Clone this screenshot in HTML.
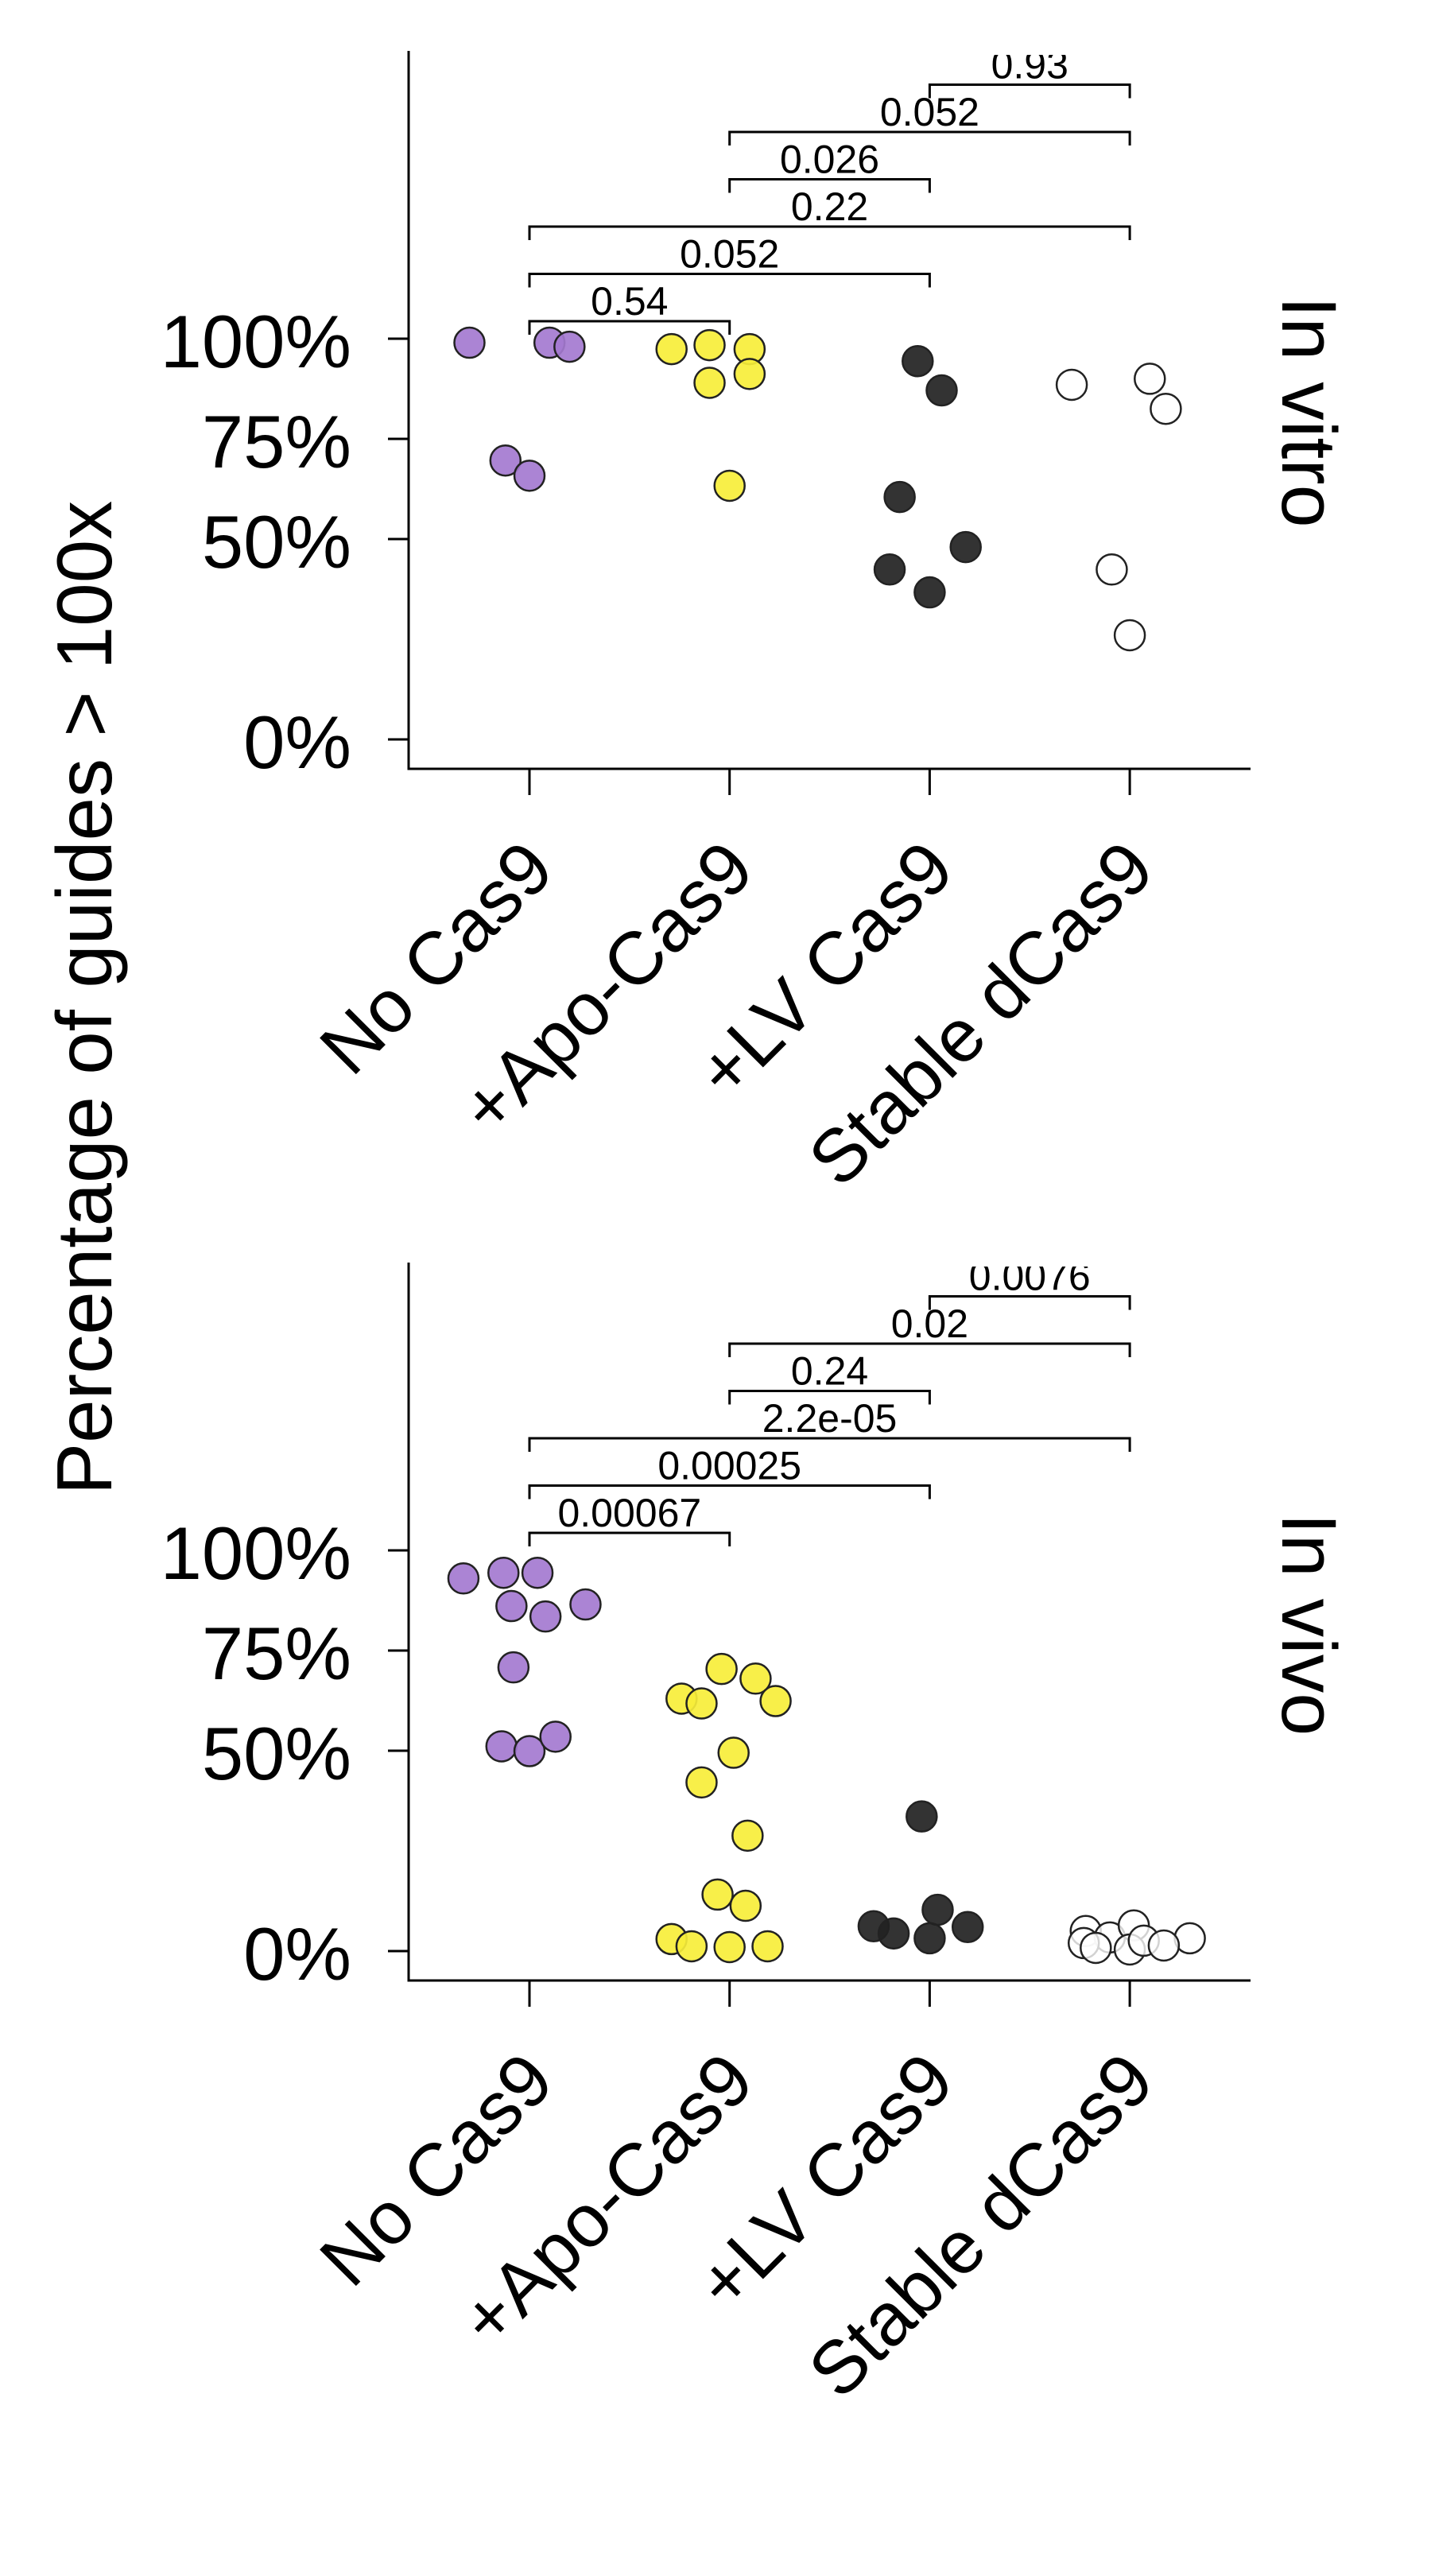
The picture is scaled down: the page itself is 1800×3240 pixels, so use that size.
<!DOCTYPE html>
<html><head><meta charset="utf-8"><style>
html,body{margin:0;padding:0;background:#fff;}
svg{display:block;}
text{font-family:"Liberation Sans",Arial,sans-serif;fill:#000;}
</style></head>
<body>
<svg id="fig" width="1800" height="3240" viewBox="0 0 1800 3240" xmlns="http://www.w3.org/2000/svg">
<defs>
<clipPath id="clipTop"><rect x="514" y="69" width="1060" height="899"/></clipPath>
<clipPath id="clipBot"><rect x="514" y="1593" width="1060" height="899"/></clipPath>
</defs>
<text x="140" y="1255" font-size="98" text-anchor="middle" transform="rotate(-90 140 1255)">Percentage of guides &gt; 100x</text>
</svg>
<script>
// ---- data ----
const categories = ["No Cas9", "+Apo-Cas9", "+LV Cas9", "Stable dCas9"];
const groupColors = ["#a479d0", "#f7ee3a", "#222222", "#ffffff"];
const yTicks = [0, 50, 75, 100];
const yTickLabels = ["0%", "50%", "75%", "100%"];

// In vitro panel
const vitroNoCas9 = [99, 99, 98, 69.6, 65.8];
const vitroNoCas9Jitter = [-0.30, 0.10, 0.20, -0.12, 0];
const vitroApo = [97.4, 98.4, 97.4, 91.2, 89, 63.3];
const vitroApoJitter = [-0.29, -0.10, 0.10, 0.10, -0.10, 0];
const vitroLV = [94.4, 87.1, 60.5, 48, 42.4, 36.7];
const vitroLVJitter = [-0.06, 0.06, -0.15, 0.18, -0.20, 0];
const vitroStable = [88.5, 90, 82.5, 42.4, 26];
const vitroStableJitter = [-0.29, 0.10, 0.18, -0.09, 0];
const vitroPairs = [[0,1],[0,2],[0,3],[1,2],[1,3],[2,3]];
const vitroPLabels = ["0.54","0.052","0.22","0.026","0.052","0.93"];

// In vivo panel
const vivoNoCas9 = [93, 94.4, 94.4, 86.1, 83.5, 86.5, 70.8, 51.1, 49.9, 53.5];
const vivoNoCas9Jitter = [-0.33, -0.13, 0.04, -0.09, 0.08, 0.28, -0.08, -0.14, 0, 0.13];
const vivoApo = [70.4, 68, 63, 61.8, 62.4, 49.5, 42.1, 28.8, 14.1, 11.3, 3, 1.2, 1, 1.2];
const vivoApoJitter = [-0.04, 0.13, -0.24, -0.14, 0.23, 0.02, -0.14, 0.09, -0.06, 0.08, -0.29, -0.19, 0, 0.19];
const vivoLV = [33.6, 6.2, 4.4, 10.3, 6, 3.2];
const vivoLVJitter = [-0.04, -0.28, -0.18, 0.04, 0.19, 0];
const vivoStable = [5, 3.4, 6.4, 3.2, 2, 0.8, 0.4, 2.6, 1.4];
const vivoStableJitter = [-0.22, -0.10, 0.02, 0.30, -0.23, -0.17, 0, 0.07, 0.17];
const vivoPairs = [[0,1],[0,2],[0,3],[1,2],[1,3],[2,3]];
const vivoPLabels = ["0.00067","0.00025","2.2e-05","0.24","0.02","0.0076"];

const NS = "http://www.w3.org/2000/svg";
const svg = document.getElementById("fig");
function mk(tag, attrs, parent){
  const e = document.createElementNS(NS, tag);
  for (const k in attrs) e.setAttribute(k, attrs[k]);
  (parent||svg).appendChild(e);
  return e;
}

function drawPanel(opt){
  const top = opt.top;
  const y0 = top + 866;
  const y100 = top + 362;
  const yScale = v => y0 + (y100 - y0) * v / 100;
  const x0 = 666, dx = 251.7;
  const xScale = (i, j) => x0 + dx * (i + j);
  const axLeft = 514, axRight = 1573, axTop = top, axBottom = top + 903;

  const g = mk("g", {});
  
  

  const ySpine = mk("line", {x1:axLeft, y1:axTop, x2:axLeft, y2:axBottom, stroke:"#000", "stroke-width":3}, g);
  
  
  const xSpine = mk("line", {x1:axLeft-1.5, y1:axBottom, x2:axRight, y2:axBottom, stroke:"#000", "stroke-width":3}, g);
  
  

  yTicks.forEach((t, i) => {
    const y = yScale(t);
    const tk = mk("line", {x1:axLeft-26, y1:y, x2:axLeft, y2:y, stroke:"#000", "stroke-width":3}, g);
    
    
    const tl = mk("text", {x:442, y:y+36, "font-size":94, "text-anchor":"end"}, g);
    tl.textContent = yTickLabels[i];
    
    
  });

  categories.forEach((c, i) => {
    const x = xScale(i, 0);
    const tk = mk("line", {x1:x, y1:axBottom, x2:x, y2:axBottom+33, stroke:"#000", "stroke-width":3}, g);
    
    
    const px = x + 35, py = axBottom + 131;
    const tl = mk("text", {x:px, y:py, "font-size":94, "text-anchor":"end", transform:`rotate(-45 ${px} ${py})`}, g);
    tl.textContent = c;
    
    
  });

  const clipG = mk("g", {"clip-path":`url(#${opt.clip})`}, g);
  opt.pairs.forEach((p, k) => {
    const yb = yScale(100) - 22 - 59.5 * k;
    const xa = xScale(p[0], 0), xb = xScale(p[1], 0);
    const br = mk("path", {d:`M${xa},${yb+17} L${xa},${yb} L${xb},${yb} L${xb},${yb+17}`, fill:"none", stroke:"#000", "stroke-width":3}, clipG);
    
    
    const tx = mk("text", {x:(xa+xb)/2, y:yb-8, "font-size":50, "text-anchor":"middle"}, clipG);
    tx.textContent = opt.labels[k];
    
    
  });

  opt.series.forEach((s, i) => {
    const vals = s[0], jit = s[1];
    vals.forEach((v, j) => {
      const c = mk("circle", {cx:xScale(i, jit[j]), cy:yScale(v), r:19, fill:groupColors[i], "fill-opacity":i===3?0.8:0.92, stroke:"#222", "stroke-width":2.5}, g);
      
      
    });
  });

  const rt = mk("text", {x:1613, y:opt.titleY, "font-size":97, "text-anchor":"middle", transform:`rotate(90 1613 ${opt.titleY})`}, g);
  rt.textContent = opt.title;
  
  
}

drawPanel({name:"in-vitro", top:64, clip:"clipTop", title:"In vitro", titleY:518,
  pairs:vitroPairs, labels:vitroPLabels,
  series:[[vitroNoCas9,vitroNoCas9Jitter],[vitroApo,vitroApoJitter],[vitroLV,vitroLVJitter],[vitroStable,vitroStableJitter]]});
drawPanel({name:"in-vivo", top:1588, clip:"clipBot", title:"In vivo", titleY:2043,
  pairs:vivoPairs, labels:vivoPLabels,
  series:[[vivoNoCas9,vivoNoCas9Jitter],[vivoApo,vivoApoJitter],[vivoLV,vivoLVJitter],[vivoStable,vivoStableJitter]]});
</script>
</body></html>
